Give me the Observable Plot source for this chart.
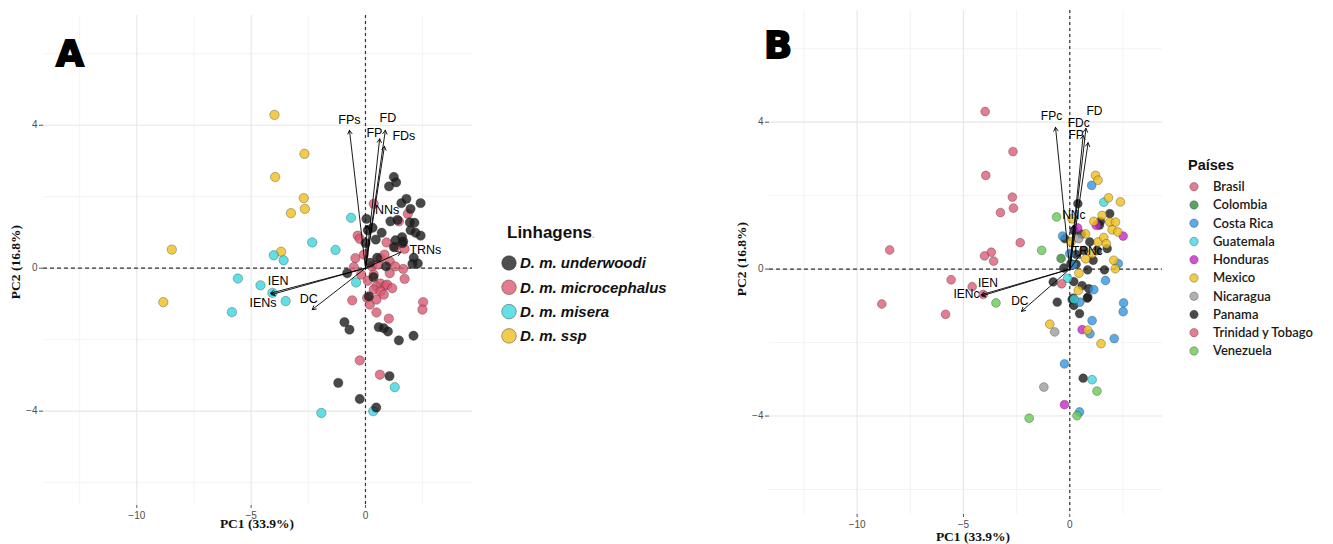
<!DOCTYPE html>
<html><head><meta charset="utf-8">
<script src="https://cdn.jsdelivr.net/npm/d3@7"></script>
<script src="https://cdn.jsdelivr.net/npm/@observablehq/plot@0.6"></script>
<style>
body{margin:0;background:#fff;}
#root{position:relative;width:1333px;height:544px;overflow:hidden;background:#fff;}
#root > svg, #root > div{position:absolute;top:0;}
</style></head><body><div id="root"></div>
<script>
// ---------- Panel A data (PC1, PC2) by lineage ----------
const underwoodi = [[1.24,2.55],[1.34,2.40],[1.03,2.29],[1.79,1.94],[1.57,1.82],[2.41,1.82],[1.97,1.66],[1.09,1.31],[0.04,1.38],[1.94,1.28],[2.14,1.27],[0.31,1.13],[0.71,0.99],[0.10,1.06],[1.97,1.06],[2.19,0.99],[2.41,0.91],[0.45,0.80],[1.31,0.78],[1.65,0.75],[1.62,0.70],[0.00,0.70],[2.11,0.29],[2.29,0.13],[2.05,0.12],[0.51,0.29],[1.24,0.59],[1.60,0.87],[-0.80,-0.14],[0.15,-0.79],[0.35,-0.25],[0.90,0.05],[0.20,0.15],[-0.92,-1.51],[-0.70,-1.72],[0.58,-1.65],[0.80,-1.68],[0.98,-1.77],[1.46,-2.02],[2.10,-1.89],[1.05,-3.02],[-1.19,-3.21],[-0.25,-3.66],[0.47,-3.90],[1.40,1.35]];
const microcephalus = [[0.36,1.80],[1.85,1.52],[1.46,1.31],[-0.34,0.91],[-0.25,0.82],[0.92,0.72],[1.31,0.59],[1.71,0.54],[-0.44,0.28],[-0.07,0.38],[0.66,0.28],[0.83,0.38],[1.06,0.19],[-0.51,0.03],[1.65,-0.02],[0.29,0.05],[-0.19,-0.18],[0.36,-0.18],[1.06,-0.14],[1.71,-0.30],[0.66,-0.43],[0.87,-0.49],[0.48,-0.51],[-0.58,-0.90],[0.07,-0.83],[0.19,-1.02],[0.48,-0.88],[2.52,-0.95],[2.49,-1.16],[0.48,-1.24],[1.02,-1.41],[-0.25,-2.58],[0.63,-2.98],[0.36,-0.60],[0.66,-0.65],[0.80,-0.74],[0.95,-0.46],[1.17,-0.56],[0.10,-0.35],[0.55,0.10],[1.30,0.05]];
const misera = [[-0.63,1.41],[-2.33,0.72],[-1.31,0.51],[-4.01,0.36],[-3.58,0.22],[-5.58,-0.29],[-4.59,-0.48],[-4.07,-0.69],[-3.49,-0.92],[-5.84,-1.23],[-0.41,-0.40],[1.28,-3.33],[-1.93,-4.05],[0.34,-4.00]];
const ssp = [[-3.98,4.29],[-2.67,3.20],[-3.95,2.55],[-2.70,1.96],[-2.65,1.66],[-3.26,1.54],[-8.47,0.52],[-3.69,0.46],[-8.84,-0.95]];
const lineageNames = ["D. m. underwoodi","D. m. microcephalus","D. m. misera","D. m. ssp"];
const lineageColors = ["#1c1c1c","#dc5770","#38d8e0","#eebe1c"];

// ---------- Panel B data (PC1, PC2) by country ----------
const brasil = [[-3.98,4.29],[-2.67,3.20],[-3.95,2.55],[-2.70,1.96],[-2.65,1.66],[-3.26,1.54],[-8.47,0.52],[-3.69,0.46],[-8.84,-0.95]];
const colombia = [[-0.41,0.29]];
const costaRica = [[1.03,2.28],[-0.34,0.90],[0.00,0.42],[2.28,0.15],[1.68,-0.31],[1.13,-0.56],[0.47,-0.90],[2.53,-0.92],[2.51,-1.16],[1.05,-1.40],[0.95,-1.76],[2.09,-1.89],[-0.25,-2.58],[0.46,-3.89],[0.15,0.12]];
const guatemala = [[1.60,1.82],[0.20,-0.82],[1.05,-3.01],[-0.10,-0.25]];
const honduras = [[1.25,1.19],[0.37,1.12],[2.51,0.90],[0.58,-1.65],[-0.25,-3.69]];
const mexico = [[1.21,2.55],[1.33,2.42],[1.82,1.94],[2.38,1.83],[1.52,1.46],[1.13,1.30],[1.88,1.28],[2.15,1.28],[0.11,1.37],[1.99,1.07],[2.26,1.01],[0.74,0.96],[0.06,0.74],[1.33,0.74],[1.60,0.86],[1.72,0.69],[2.07,0.24],[2.14,0.01],[0.43,-0.11],[1.05,0.42],[-0.94,-1.50],[0.84,-1.66],[1.47,-2.03],[0.40,-0.58],[0.75,0.28]];
const nicaragua = [[0.42,0.83],[-0.71,-1.71],[-1.22,-3.21]];
const panama = [[0.38,1.78],[1.88,1.51],[1.44,1.30],[-0.23,0.83],[0.94,0.74],[1.76,0.56],[0.66,0.51],[1.29,0.51],[1.10,0.24],[1.63,-0.02],[0.84,-0.02],[-0.28,0.03],[-0.78,-0.35],[-0.59,-0.90],[0.11,-0.83],[0.19,-0.99],[0.46,-1.21],[0.63,-2.97],[0.85,-0.76],[0.30,0.13],[0.19,-0.34],[0.58,-0.45],[0.89,-0.53],[0.82,-0.79],[0.16,-0.79],[1.40,1.20],[0.55,0.95],[0.20,1.05],[0.05,0.15],[0.30,0.40]];
const trinidad = [[-4.01,0.36],[-3.58,0.22],[-5.58,-0.29],[-4.59,-0.48],[-4.07,-0.69],[-5.84,-1.23],[-2.33,0.72],[-0.38,-0.40]];
const venezuela = [[-0.62,1.42],[-1.32,0.51],[-3.47,-0.92],[-1.91,-4.06],[1.28,-3.32],[0.34,-3.99]];
const countryNames = ["Brasil","Colombia","Costa Rica","Guatemala","Honduras","Mexico","Nicaragua","Panama","Trinidad y Tobago","Venezuela"];
const countryColors = ["#dc5d75","#2e8c38","#3196e0","#3cd9e0","#c925c9","#eebe1c","#9c9c9c","#1c1c1c","#dc5d75","#66c952"];

// ---------- Variable loadings (arrows) ----------
const varsA = ["FPs","FD","FP","FDs","NNs","TRNs","IEN","IENs","DC"];
const loadXA = [-0.70,0.87,0.62,0.83,0.07,1.55,-4.15,-4.12,-2.33];
const loadYA = [3.86,3.86,3.62,3.41,1.19,0.45,-0.70,-0.74,-1.16];
const labXA = [-0.70,0.98,0.39,1.68,0.95,2.62,-3.82,-4.48,-2.48];
const labYA = [4.16,4.19,3.79,3.71,1.64,0.52,-0.35,-0.98,-0.85];

const varsB = ["FPc","FD","FDc","FP","NNc","TRNc","IEN","IENc","DC"];
const loadXB = [-0.67,0.76,0.86,0.63,0.17,0.50,-4.17,-4.14,-2.27];
const loadYB = [3.86,3.83,3.44,3.64,1.19,0.40,-0.70,-0.73,-1.15];
const labXB = [-0.86,1.16,0.42,0.30,0.19,0.82,-3.85,-4.86,-2.35];
const labYB = [4.16,4.30,3.97,3.64,1.46,0.49,-0.38,-0.67,-0.88];

const xTicks = [-10,-5,0];
const xMinor = [-12.5,-7.5,-2.5,2.5];
const yTicks = [-4,0,4];
const yMinor = [-6,-2,2,6];

function panel(o) {
  const pts = o.groups.flatMap((g, i) => g.map(([x, y]) => ({x, y, g: o.names[i]})));
  const arr = o.vars.map((v, i) => ({v, x: o.lx[i], y: o.ly[i], tx: o.tx[i], ty: o.ty[i]}));
  return Plot.plot({
    width: o.width, height: 544,
    marginLeft: o.ml, marginRight: o.mr, marginTop: o.mt, marginBottom: o.mb,
    x: {domain: o.xd},
    y: {domain: o.yd},
    color: {domain: o.names, range: o.colors},
    style: {background: "transparent", fontFamily: "'Liberation Sans', Arial, sans-serif", fontSize: "10px", color: "#4d4d4d", overflow: "visible"},
    marks: [
      Plot.gridX(xMinor, {stroke: "#f0f0f0", strokeOpacity: 1, strokeWidth: 0.8}),
      Plot.gridY(yMinor, {stroke: "#f0f0f0", strokeOpacity: 1, strokeWidth: 0.8}),
      Plot.gridX(xTicks, {stroke: "#e6e6e6", strokeOpacity: 1, strokeWidth: 1.1}),
      Plot.gridY(yTicks, {stroke: "#e6e6e6", strokeOpacity: 1, strokeWidth: 1.1}),
      Plot.axisX(xTicks, {tickSize: 3, tickPadding: 3, label: null, stroke: "#555"}),
      Plot.axisY(yTicks, {tickSize: 4, tickPadding: 2, label: null, stroke: "#555"}),
      Plot.ruleX([0], {stroke: "#333", strokeWidth: 1.2, strokeDasharray: "3,3"}),
      Plot.ruleY([0], {stroke: "#333", strokeWidth: 1.2, strokeDasharray: "4,3"}),
      Plot.dot(pts, {x: "x", y: "y", fill: "g", r: o.r, fillOpacity: 0.8, stroke: "#222", strokeOpacity: 0.45, strokeWidth: 0.7}),
      Plot.arrow(arr, {x1: () => 0, y1: () => 0, x2: "x", y2: "y", stroke: "#000", strokeWidth: 0.9, headLength: 7, bend: 0}),
      Plot.text(arr, {x: "tx", y: "ty", text: "v", fill: "#000", fontSize: o.fs, textAnchor: "middle"})
    ]
  });
}

const root = document.getElementById("root");
const A = panel({width: 480, ml: 43, mr: 8, mt: 15, mb: 39, xd: [-14.08, 4.68], yd: [-6.64, 7.07], r: 4.7, fs: 12.5,
  groups: [ssp, misera, microcephalus, underwoodi], names: ["D. m. ssp","D. m. misera","D. m. microcephalus","D. m. underwoodi"],
  colors: [lineageColors[3], lineageColors[2], lineageColors[1], lineageColors[0]],
  vars: varsA, lx: loadXA, ly: loadYA, tx: labXA, ty: labYA});
A.style.left = "0px";
root.appendChild(A);

const orderB = ["Panama","Brasil","Colombia","Costa Rica","Guatemala","Honduras","Mexico","Nicaragua","Trinidad y Tobago","Venezuela"];
const B = panel({width: 470, ml: 69, mr: 8, mt: 10, mb: 30, xd: [-14.12, 4.36], yd: [-6.68, 7.04], r: 4.4, fs: 12,
  groups: [panama, brasil, colombia, costaRica, guatemala, honduras, mexico, nicaragua, trinidad, venezuela],
  names: orderB,
  colors: orderB.map(n => countryColors[countryNames.indexOf(n)]),
  vars: varsB, lx: loadXB, ly: loadYB, tx: labXB, ty: labYB});
B.style.left = "700px";
root.appendChild(B);

// ---------- overlay: panel letters, axis titles, legends ----------
const ov = d3.select(root).append("svg").attr("width", 1333).attr("height", 544)
  .style("left", "0px").style("top", "0px").style("position", "absolute");

ov.append("text").attr("x", 56).attr("y", 66).text("A")
  .attr("font-family", "'DejaVu Sans', sans-serif").attr("font-weight", "bold").attr("font-size", 36)
  .attr("stroke", "#000").attr("stroke-width", 1.8).attr("fill", "#000");
ov.append("text").attr("x", 764).attr("y", 58).text("B")
  .attr("font-family", "'DejaVu Sans', sans-serif").attr("font-weight", "bold").attr("font-size", 37)
  .attr("stroke", "#000").attr("stroke-width", 1.8).attr("fill", "#000");

function axisTitle(x, y, t, rot) {
  ov.append("text").attr("transform", `translate(${x},${y}) rotate(${rot})`).attr("text-anchor", "middle")
    .attr("font-family", "'Liberation Serif', 'Times New Roman', serif").attr("font-weight", "bold")
    .attr("font-size", 13.5).attr("fill", "#111").text(t);
}
axisTitle(257, 528, "PC1 (33.9%)", 0);
axisTitle(20, 262, "PC2 (16.8%)", -90);
axisTitle(973, 541, "PC1 (33.9%)", 0);
axisTitle(746, 259, "PC2 (16.8%)", -90);

// Legend A
const lgA = ov.append("g").attr("font-family", "'Liberation Sans', Arial, sans-serif");
lgA.append("text").attr("x", 507).attr("y", 238).attr("font-size", 17).attr("font-weight", "bold").attr("fill", "#111").text("Linhagens")
  .append("tspan").attr("fill", "#aaa").attr("font-size", 9).text(".");
lineageNames.forEach((n, i) => {
  const cy = 263 + i * 24.3;
  lgA.append("circle").attr("cx", 509).attr("cy", cy).attr("r", 7.3)
    .attr("fill", lineageColors[i]).attr("fill-opacity", 0.78).attr("stroke", "#333").attr("stroke-opacity", 0.45);
  lgA.append("text").attr("x", 520).attr("y", cy + 5.2).attr("font-size", 15).attr("font-weight", "bold")
    .attr("font-style", "italic").attr("fill", "#111").text(n);
});

// Legend B
const lgB = ov.append("g").attr("font-family", "Lato, 'Open Sans', sans-serif");
lgB.append("text").attr("x", 1188).attr("y", 170).attr("font-size", 14.5).attr("font-weight", "bold").attr("fill", "#111")
  .attr("font-family", "'Liberation Sans', Arial, sans-serif").text("Países");
countryNames.forEach((n, i) => {
  const cy = 186.7 + i * 18.25;
  lgB.append("circle").attr("cx", 1194).attr("cy", cy).attr("r", 4.2)
    .attr("fill", countryColors[i]).attr("fill-opacity", 0.8).attr("stroke", "#333").attr("stroke-opacity", 0.35);
  lgB.append("text").attr("x", 1213).attr("y", cy + 4.5).attr("font-size", 13).attr("font-weight", 600)
    .attr("fill", "#1a1a1a").text(n);
});
</script>
</body></html>
